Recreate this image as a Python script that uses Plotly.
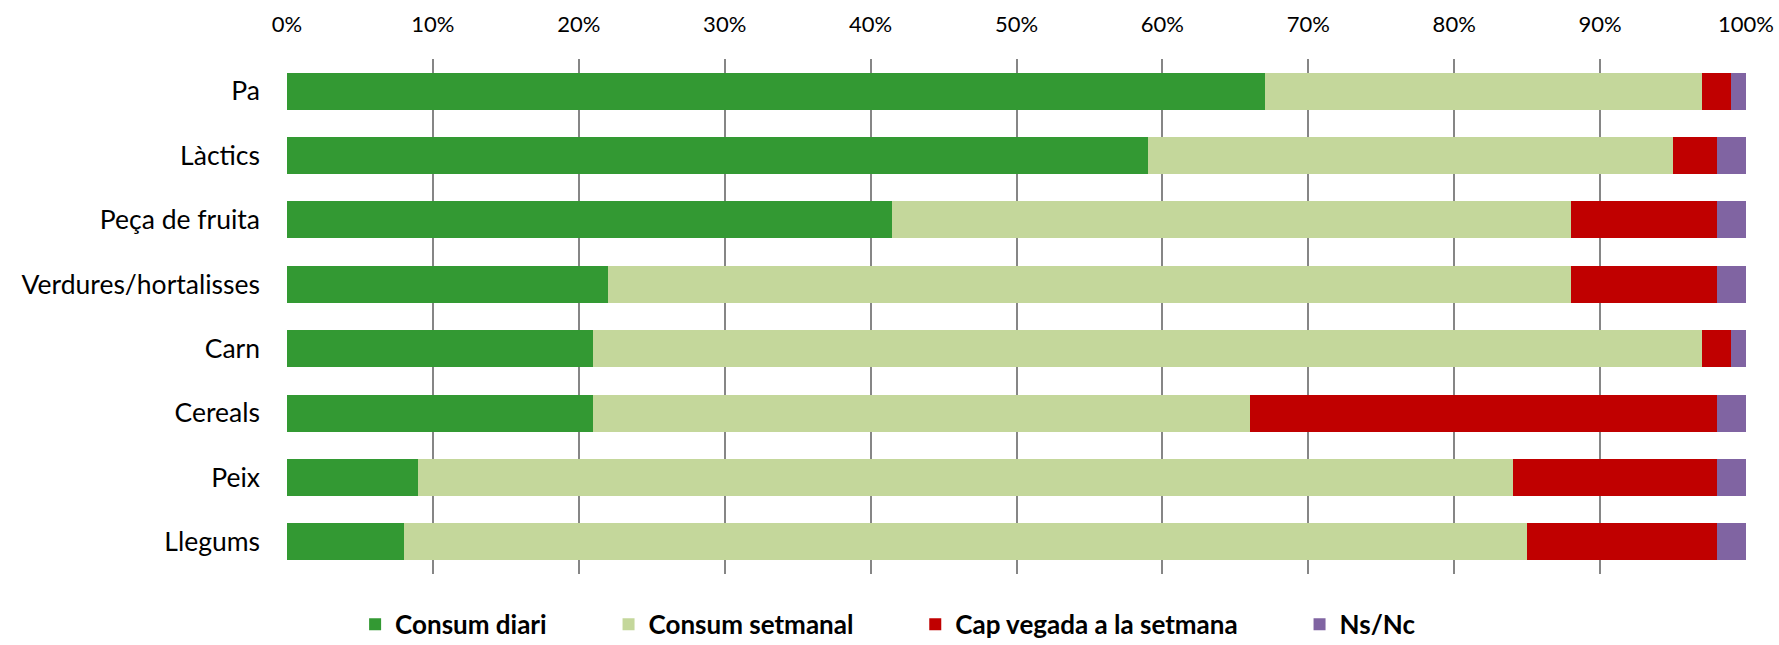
import plotly.graph_objects as go

categories = ["Pa", "Làctics", "Peça de fruita", "Verdures/hortalisses", "Carn", "Cereals", "Peix", "Llegums"]
consum_diari = [67, 59, 41.5, 22, 21, 21, 9, 8]
consum_setmanal = [30, 36, 46.5, 66, 76, 45, 75, 77]
cap_vegada = [2, 3, 10, 10, 2, 32, 14, 13]
ns_nc = [1, 2, 2, 2, 1, 2, 2, 2]
tick_vals = [0, 10, 20, 30, 40, 50, 60, 70, 80, 90, 100]
tick_text = [f"{v}%" for v in tick_vals]
series_names = ["Consum diari", "Consum setmanal", "Cap vegada a la setmana", "Ns/Nc"]
series_colors = ["#339933", "#C4D79B", "#C00000", "#8064A2"]
series_values = [consum_diari, consum_setmanal, cap_vegada, ns_nc]

FONT = "Lato"
PAD = "\u00a0" * 9
fig = go.Figure()
for i, (name, vals, color) in enumerate(zip(series_names, series_values, series_colors)):
    label = name + (PAD if i < len(series_names) - 1 else "")
    fig.add_trace(go.Bar(
        y=categories, x=vals, name=label, orientation="h",
        marker=dict(color=color, line=dict(width=0)),
    ))

fig.update_layout(
    width=1779, height=645,
    barmode="stack", bargap=0.426,
    plot_bgcolor="white", paper_bgcolor="white",
    margin=dict(l=287, r=33, t=59, b=71),
    font=dict(family=FONT, size=22, color="#000000"),
    legend=dict(
        orientation="h", x=0.412, xanchor="center",
        yref="container", y=0.032, yanchor="middle",
        font=dict(family=FONT, size=26, weight="bold", color="#000000"),
        traceorder="normal", bgcolor="rgba(0,0,0,0)",
    ),
    xaxis=dict(
        side="top", range=[0, 100], tickvals=tick_vals, ticktext=tick_text,
        showgrid=True, gridcolor="#868686", gridwidth=1.5,
        zeroline=False, showline=False, ticks="", automargin=False,
        ticklabelstandoff=22,
        tickfont=dict(family=FONT, size=22),
    ),
    yaxis=dict(
        categoryorder="array", categoryarray=categories, autorange="reversed",
        showgrid=False, zeroline=False, showline=False, ticks="", automargin=False,
        ticklabelstandoff=26,
        tickfont=dict(family=FONT, size=26.5),
    ),
)

fig.write_html(
    "out.html",
    config={"displayModeBar": False},
    post_script="document.body.style.margin='0';document.body.style.overflow='hidden';",
)
